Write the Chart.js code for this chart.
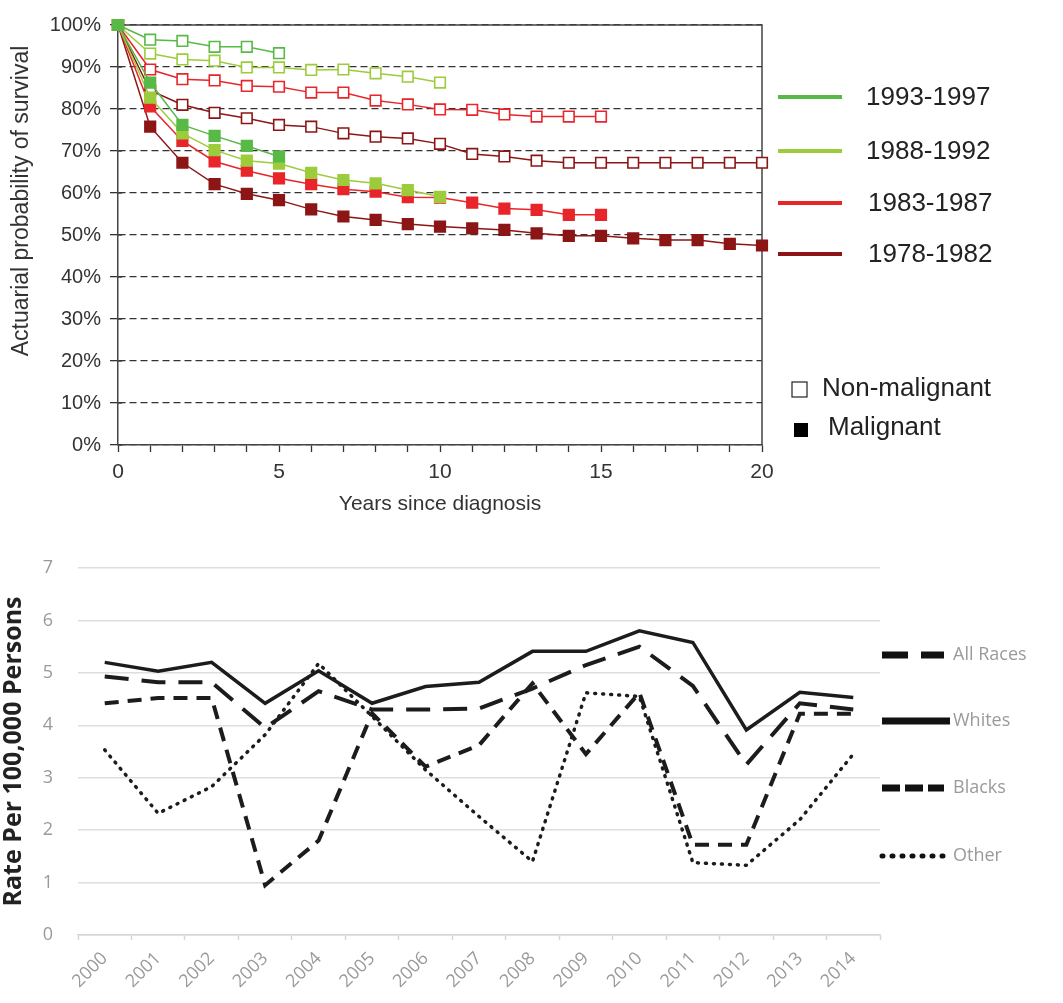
<!DOCTYPE html>
<html>
<head>
<meta charset="utf-8">
<script src="https://cdn.jsdelivr.net/npm/chart.js@4.4.1/dist/chart.umd.min.js"></script>
<style>
  html, body { margin: 0; padding: 0; background: #fff; }
  #wrap { width: 1063px; height: 1003px; }
  canvas { display: block; }
</style>
</head>
<body>
<div id="wrap">
  <canvas id="survival" width="1063" height="530"></canvas>
  <canvas id="rates" width="1063" height="473"></canvas>
</div>
<script>
// ---- Top chart: survival by diagnosis period (index = years since diagnosis) ----
const years = [0, 1, 2, 3, 4, 5, 6, 7, 8, 9, 10, 11, 12, 13, 14, 15, 16, 17, 18, 19, 20];
const periods = ['1993-1997', '1988-1992', '1983-1987', '1978-1982'];
const periodColors = ['#58b947', '#9ccc3c', '#e8252a', '#8c1515'];

const nonMal1993 = [100, 96.5, 96.2, 94.8, 94.8, 93.3];
const nonMal1988 = [100, 93.2, 91.8, 91.5, 89.9, 89.9, 89.3, 89.4, 88.5, 87.7, 86.3];
const nonMal1983 = [100, 89.4, 87.1, 86.8, 85.5, 85.3, 83.9, 83.9, 82.0, 81.1, 79.9, 79.8, 78.7, 78.2, 78.2, 78.2];
const nonMal1978 = [100, 84.4, 81.0, 79.1, 77.8, 76.2, 75.8, 74.2, 73.4, 73.0, 71.7, 69.3, 68.7, 67.7, 67.2, 67.2, 67.2, 67.2, 67.2, 67.2, 67.2];

const mal1993 = [100, 86.3, 76.2, 73.6, 71.2, 68.7];
const mal1988 = [100, 82.7, 74.2, 70.2, 67.7, 67.0, 64.8, 63.1, 62.3, 60.7, 59.1];
const mal1983 = [100, 80.6, 72.4, 67.5, 65.3, 63.5, 62.1, 60.9, 60.3, 59.0, 58.9, 57.7, 56.3, 56.0, 54.8, 54.8];
const mal1978 = [100, 75.8, 67.2, 62.1, 59.8, 58.3, 56.1, 54.4, 53.6, 52.6, 52.0, 51.6, 51.2, 50.4, 49.8, 49.8, 49.2, 48.8, 48.8, 47.9, 47.5];

const pctTicks = [0, 10, 20, 30, 40, 50, 60, 70, 80, 90, 100];

// ---- Bottom chart: rate per 100,000 persons ----
const rateYears = ['2000', '2001', '2002', '2003', '2004', '2005', '2006', '2007', '2008', '2009', '2010', '2011', '2012', '2013', '2014'];
const allRaces = [4.93, 4.82, 4.82, 3.95, 4.65, 4.30, 4.30, 4.32, 4.70, 5.15, 5.50, 4.75, 3.25, 4.42, 4.30];
const whites   = [5.20, 5.03, 5.20, 4.42, 5.04, 4.42, 4.74, 4.82, 5.41, 5.41, 5.80, 5.58, 3.91, 4.63, 4.53];
const blacks   = [4.42, 4.52, 4.52, 0.95, 1.80, 4.23, 3.21, 3.62, 4.80, 3.45, 4.62, 1.72, 1.72, 4.22, 4.22];
const other    = [3.53, 2.32, 2.83, 3.82, 5.18, 4.17, 3.15, 2.26, 1.40, 4.62, 4.55, 1.38, 1.33, 2.20, 3.45];
const raceNames = ['All Races', 'Whites', 'Blacks', 'Other'];

const SANS = '"Liberation Sans", Arial, Helvetica, sans-serif';
const SOFT = '"Open Sans", Lato, sans-serif';

const toPoints = values => values.map((v, i) => ({ x: years[i], y: v }));

/**
 * Build one survival series
 */
const survivalSet = (label, values, color, filled) => ({
  label,
  data: toPoints(values),
  borderColor: color,
  backgroundColor: color,
  borderWidth: 1.5,
  pointStyle: 'rect',
  pointRadius: 7.5,
  pointHoverRadius: 7.5,
  pointBorderWidth: 1.6,
  pointBorderColor: color,
  pointBackgroundColor: filled ? color : '#ffffff',
  tension: 0,
  clip: false,
});

// Frame on top and right of the plot area, plus the y title (sits above centre in the original)
const plotFrame = {
  id: 'plotFrame',
  beforeDatasetsDraw(chart) {
    const { ctx, chartArea: a } = chart;
    ctx.save();
    ctx.strokeStyle = '#444';
    ctx.lineWidth = 1.5;
    ctx.beginPath();
    ctx.moveTo(a.left, a.top);
    ctx.lineTo(a.right, a.top);
    ctx.lineTo(a.right, a.bottom);
    ctx.stroke();
    // small tick stubs crossing into the plot on the y axis
    ctx.lineWidth = 1.3;
    ctx.strokeStyle = '#333';
    pctTicks.forEach(v => {
      const y = chart.scales.y.getPixelForValue(v);
      ctx.beginPath();
      ctx.moveTo(a.left, y);
      ctx.lineTo(a.left + 4, y);
      ctx.stroke();
    });

    ctx.translate(22, 201);
    ctx.rotate(-Math.PI / 2);
    ctx.font = `23px ${SANS}`;
    ctx.fillStyle = '#333';
    ctx.textAlign = 'center';
    ctx.textBaseline = 'middle';
    ctx.fillText('Actuarial probability of survival', 0, 0);
    ctx.restore();
  },
};

// Legend for the periods and for marker type
const survivalLegend = {
  id: 'survivalLegend',
  afterDraw(chart) {
    const { ctx } = chart;
    const rows = [97, 151, 203, 254];
    ctx.save();
    ctx.font = `26px ${SANS}`;
    ctx.textBaseline = 'middle';
    periods.forEach((name, i) => {
      ctx.strokeStyle = periodColors[i];
      ctx.lineWidth = 4;
      ctx.beginPath();
      ctx.moveTo(778, rows[i]);
      ctx.lineTo(842, rows[i]);
      ctx.stroke();
      ctx.fillStyle = '#222';
      ctx.fillText(name, i < 2 ? 866 : 868, rows[i] + 1);
    });

    ctx.lineWidth = 1.2;
    ctx.strokeStyle = '#222';
    ctx.fillStyle = '#fff';
    ctx.fillRect(792, 382, 15, 15);
    ctx.strokeRect(792, 382, 15, 15);
    ctx.fillStyle = '#000';
    ctx.fillRect(794, 423, 14, 14);
    ctx.fillStyle = '#222';
    ctx.fillText('Non-malignant', 822, 389);
    ctx.fillText('Malignant', 828, 428);
    ctx.restore();
  },
};

new Chart(document.getElementById('survival'), {
  type: 'line',
  data: {
    datasets: [
      survivalSet('1993-1997 malignant', mal1993, periodColors[0], true),
      survivalSet('1993-1997 non-malignant', nonMal1993, periodColors[0], false),
      survivalSet('1988-1992 malignant', mal1988, periodColors[1], true),
      survivalSet('1988-1992 non-malignant', nonMal1988, periodColors[1], false),
      survivalSet('1983-1987 malignant', mal1983, periodColors[2], true),
      survivalSet('1983-1987 non-malignant', nonMal1983, periodColors[2], false),
      survivalSet('1978-1982 malignant', mal1978, periodColors[3], true),
      survivalSet('1978-1982 non-malignant', nonMal1978, periodColors[3], false),
    ],
  },
  options: {
    responsive: false,
    animation: false,
    layout: { padding: { top: 25, right: 301, left: 0, bottom: 0 } },
    plugins: { legend: { display: false }, tooltip: { enabled: false } },
    scales: {
      x: {
        type: 'linear',
        min: 0,
        max: 20,
        afterFit: scale => { scale.height = 85; },
        ticks: {
          stepSize: 1,
          autoSkip: false,
          maxRotation: 0,
          padding: 8,
          color: '#333',
          font: { family: SANS, size: 21 },
          callback: v => (v % 5 === 0 ? v : ''),
        },
        grid: { drawOnChartArea: false, drawTicks: true, tickLength: 7, tickColor: '#333', tickWidth: 1.3 },
        border: { color: '#444', width: 1.5 },
        title: {
          display: true,
          text: 'Years since diagnosis',
          color: '#333',
          font: { family: SANS, size: 21 },
          padding: { top: 4, bottom: 13 },
        },
      },
      y: {
        min: 0,
        max: 100,
        afterFit: scale => { scale.width = 118; },
        afterBuildTicks: scale => { scale.ticks = pctTicks.map(v => ({ value: v })); },
        ticks: {
          padding: 9,
          color: '#333',
          font: { family: SANS, size: 20 },
          callback: v => v + '%',
        },
        grid: { color: '#333', lineWidth: 1.3, tickLength: 8, tickColor: '#333', tickWidth: 1.3 },
        border: { color: '#444', width: 1.5, dash: [7, 4] },
        title: { display: false },
      },
    },
  },
  plugins: [plotFrame, survivalLegend],
});

// ---- Bottom chart ----
const raceStyles = [
  { dash: [24, 13], width: 4, cap: 'butt' },
  { dash: [], width: 3.5, cap: 'butt' },
  { dash: [14, 9], width: 4, cap: 'butt' },
  { dash: [1, 7], width: 3.5, cap: 'round' },
];

const raceSet = (label, values, style) => ({
  label,
  data: values,
  borderColor: '#1c1c1c',
  borderWidth: style.width,
  borderDash: style.dash,
  borderCapStyle: style.cap,
  pointRadius: 0,
  tension: 0,
  fill: false,
});

const raceLegend = {
  id: 'raceLegend',
  afterDraw(chart) {
    const { ctx, chartArea: a } = chart;
    const rows = [125, 191, 258, 326];
    const legendDash = [[26, 13], [], [18, 5], [1, 9]];
    ctx.save();
    raceNames.forEach((name, i) => {
      ctx.strokeStyle = '#111';
      ctx.lineWidth = i === 3 ? 5 : 7;
      ctx.lineCap = i === 3 ? 'round' : 'butt';
      ctx.setLineDash(legendDash[i]);
      ctx.beginPath();
      ctx.moveTo(a.right + 2, rows[i]);
      ctx.lineTo(a.right + (i === 1 ? 70 : 64), rows[i]);
      ctx.stroke();
      ctx.setLineDash([]);
      ctx.font = `18px ${SOFT}`;
      ctx.fillStyle = '#9a9a9a';
      ctx.textBaseline = 'middle';
      ctx.fillText(name, 953, rows[i]);
    });
    ctx.restore();
  },
};

new Chart(document.getElementById('rates'), {
  type: 'line',
  data: {
    labels: rateYears,
    datasets: [
      raceSet(raceNames[0], allRaces, raceStyles[0]),
      raceSet(raceNames[1], whites, raceStyles[1]),
      raceSet(raceNames[2], blacks, raceStyles[2]),
      raceSet(raceNames[3], other, raceStyles[3]),
    ],
  },
  options: {
    responsive: false,
    animation: false,
    layout: { padding: { top: 38, right: 183, left: 0, bottom: 0 } },
    plugins: { legend: { display: false }, tooltip: { enabled: false } },
    scales: {
      x: {
        offset: true,
        afterFit: scale => { scale.height = 68; },
        grid: { offset: true, drawOnChartArea: false, tickLength: 5, tickColor: '#d6d6d6', tickWidth: 1.5 },
        border: { color: '#d6d6d6', width: 1.5 },
        ticks: {
          minRotation: 45,
          maxRotation: 45,
          autoSkip: false,
          padding: 8,
          color: '#9a9a9a',
          font: { family: SOFT, size: 18 },
        },
      },
      y: {
        min: 0,
        max: 7,
        afterFit: scale => { scale.width = 78; },
        ticks: { stepSize: 1, padding: 25, color: '#9a9a9a', font: { family: SOFT, size: 18 } },
        grid: { color: '#dedede', lineWidth: 1.5, drawTicks: false },
        border: { display: false },
        title: {
          display: true,
          text: 'Rate Per 100,000 Persons',
          color: '#222',
          font: { family: SOFT, size: 25, weight: 'bold' },
          padding: { top: -1, bottom: 0 },
        },
      },
    },
  },
  plugins: [raceLegend],
});
</script>
</body>
</html>
